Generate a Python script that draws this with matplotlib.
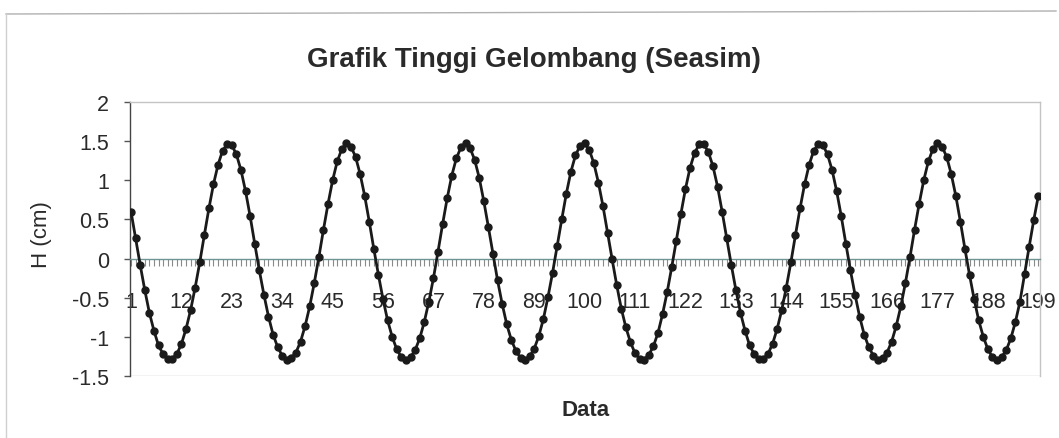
import matplotlib
matplotlib.use("Agg")
import matplotlib.pyplot as plt
from matplotlib.ticker import FixedLocator
from matplotlib.lines import Line2D

# ---------------- data ----------------
categories = list(range(1, 200))
height_cm = [
    0.60, 0.26, -0.08, -0.40, -0.69, -0.92, -1.11, -1.22, -1.28, -1.28, -1.22, -1.09, -0.90,
    -0.66, -0.37, -0.05, 0.30, 0.64, 0.95, 1.20, 1.38, 1.46, 1.45, 1.33, 1.13, 0.86,
    0.54, 0.19, -0.15, -0.46, -0.74, -0.97, -1.13, -1.24, -1.29, -1.27, -1.20, -1.06, -0.86,
    -0.61, -0.31, 0.02, 0.37, 0.70, 1.00, 1.24, 1.40, 1.47, 1.43, 1.30, 1.08, 0.80,
    0.47, 0.12, -0.21, -0.52, -0.79, -1.00, -1.16, -1.26, -1.29, -1.26, -1.17, -1.02, -0.81,
    -0.55, -0.25, 0.09, 0.44, 0.77, 1.06, 1.28, 1.42, 1.47, 1.41, 1.26, 1.03, 0.73,
    0.40, 0.06, -0.28, -0.58, -0.84, -1.04, -1.18, -1.27, -1.29, -1.25, -1.15, -0.99, -0.77,
    -0.49, -0.18, 0.16, 0.50, 0.83, 1.11, 1.32, 1.44, 1.47, 1.39, 1.22, 0.97, 0.67,
    0.33, -0.01, -0.34, -0.64, -0.88, -1.07, -1.21, -1.28, -1.29, -1.23, -1.12, -0.95, -0.71,
    -0.43, -0.11, 0.23, 0.57, 0.89, 1.16, 1.35, 1.46, 1.46, 1.36, 1.18, 0.92, 0.60,
    0.26, -0.08, -0.40, -0.69, -0.92, -1.11, -1.22, -1.28, -1.28, -1.22, -1.09, -0.90, -0.66,
    -0.37, -0.05, 0.30, 0.64, 0.95, 1.20, 1.38, 1.46, 1.45, 1.33, 1.13, 0.86, 0.54,
    0.19, -0.15, -0.46, -0.74, -0.97, -1.13, -1.24, -1.29, -1.27, -1.20, -1.06, -0.86, -0.61,
    -0.31, 0.02, 0.37, 0.70, 1.00, 1.24, 1.40, 1.47, 1.43, 1.30, 1.08, 0.80, 0.47,
    0.12, -0.21, -0.52, -0.79, -1.00, -1.16, -1.26, -1.29, -1.26, -1.17, -1.02, -0.81, -0.55,
    -0.20, 0.15, 0.49, 0.80,
]
x_tick_values = [1, 12, 23, 34, 45, 56, 67, 78, 89, 100, 111, 122, 133, 144, 155, 166, 177, 188, 199]
x_tick_labels = ["1", "12", "23", "34", "45", "56", "67", "78", "89", "100", "111", "122",
                 "133", "144", "155", "166", "177", "188", "199"]
y_tick_values = [-1.5, -1.0, -0.5, 0.0, 0.5, 1.0, 1.5, 2.0]
y_tick_labels = ["-1.5", "-1", "-0.5", "0", "0.5", "1", "1.5", "2"]

title_text = "Grafik Tinggi Gelombang (Seasim)"
x_title = "Data"
y_title = "H (cm)"

# ---------------- style ----------------
plt.rcParams["font.family"] = ["Liberation Sans", "DejaVu Sans"]
W, H = 1059, 439
fig = plt.figure(figsize=(W / 100, H / 100), dpi=100)
fig.patch.set_facecolor("white")

ax = fig.add_axes([130 / W, 1 - 377 / H, (1040 - 130) / W, (377 - 103) / H])
ax.set_facecolor("white")

text_color = "#2a2a2a"

ax.plot(categories, height_cm, color="#1a1a1a", lw=2.0, marker="o",
        markersize=5.0, markerfacecolor="#1a1a1a", markeredgecolor="#1a1a1a", zorder=5)

ax.set_xlim(0.78, 199.37)
ax.set_ylim(-1.5, 2.0)

# y axis
ax.yaxis.set_major_locator(FixedLocator(y_tick_values))
ax.set_yticklabels(y_tick_labels)
ax.tick_params(axis="y", direction="out", length=4, width=1, color="#555555",
               pad=11, labelsize=15.5, labelcolor=text_color)

# x axis across zero with dense category ticks
ax.spines["bottom"].set_position(("data", 0))
ax.spines["bottom"].set_color("#6f9494")
ax.spines["bottom"].set_linewidth(1.0)
ax.xaxis.set_major_locator(FixedLocator(x_tick_values))
ax.set_xticklabels(x_tick_labels)
ax.xaxis.set_minor_locator(FixedLocator(categories))
ax.tick_params(axis="x", which="both", direction="out", length=5, width=0.8,
               color="#8a8a8a")
ax.tick_params(axis="x", which="major", pad=18, labelsize=15.5, labelcolor=text_color)

ax.spines["left"].set_color("#444444")
ax.spines["left"].set_linewidth(1.0)
for s in ("top", "right"):
    ax.spines[s].set_color("#c4c4c4")
    ax.spines[s].set_linewidth(1.0)

# plot area bottom border (the category axis sits at zero)
ax.axhline(-1.5, color="#c4c4c4", lw=1.0, zorder=1)

# titles
fig.text(534 / W, 1 - 60 / H, title_text, ha="center", va="center",
         fontsize=20, fontweight="bold", color=text_color)
fig.text(586 / W, 1 - 411 / H, x_title, ha="center", va="center",
         fontsize=16, fontweight="bold", color=text_color)
fig.text(42 / W, 1 - 235 / H, y_title, ha="center", va="center", rotation=90,
         fontsize=16, color=text_color)

# chart area border (top and left edges visible)
fig.add_artist(Line2D([6 / W, 1 - 3 / W], [1 - 15 / H, 1 - 12 / H],
                      transform=fig.transFigure, color="#b0b0b0", lw=1.0))
fig.add_artist(Line2D([6 / W, 6 / W], [1 - 15 / H, 0], transform=fig.transFigure,
                      color="#d0d0d0", lw=1.0))

fig.savefig("out.png", dpi=100, facecolor="white")
